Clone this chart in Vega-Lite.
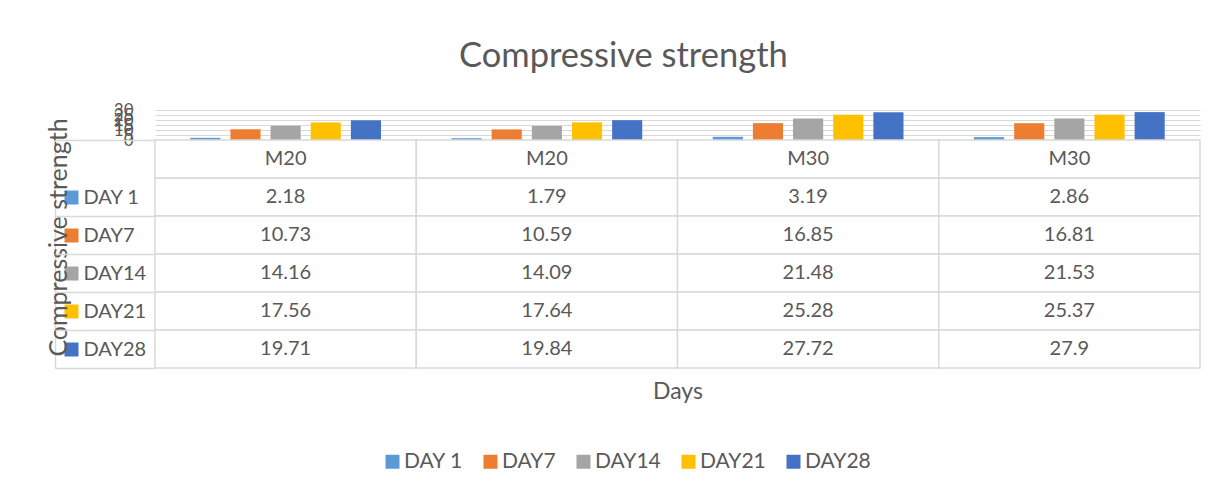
{
  "$schema": "https://vega.github.io/schema/vega-lite/v6.json",
  "background": "white",
  "padding": {"left": 45, "top": 38, "right": 10, "bottom": 10},
  "bounds": "flush",
  "spacing": 0,
  "title": {"text": "Compressive strength", "fontSize": 34.5, "font": "Lato", "fontWeight": "normal", "color": "#595959", "offset": 27, "anchor": "middle"},
  "config": {
    "font": "Lato",
    "view": {"stroke": null}
  },
  "data": {"values": [
    {"col": 1, "grade": "M20", "series": "DAY 1", "value": 2.18},
    {"col": 1, "grade": "M20", "series": "DAY7", "value": 10.73},
    {"col": 1, "grade": "M20", "series": "DAY14", "value": 14.16},
    {"col": 1, "grade": "M20", "series": "DAY21", "value": 17.56},
    {"col": 1, "grade": "M20", "series": "DAY28", "value": 19.71},
    {"col": 2, "grade": "M20", "series": "DAY 1", "value": 1.79},
    {"col": 2, "grade": "M20", "series": "DAY7", "value": 10.59},
    {"col": 2, "grade": "M20", "series": "DAY14", "value": 14.09},
    {"col": 2, "grade": "M20", "series": "DAY21", "value": 17.64},
    {"col": 2, "grade": "M20", "series": "DAY28", "value": 19.84},
    {"col": 3, "grade": "M30", "series": "DAY 1", "value": 3.19},
    {"col": 3, "grade": "M30", "series": "DAY7", "value": 16.85},
    {"col": 3, "grade": "M30", "series": "DAY14", "value": 21.48},
    {"col": 3, "grade": "M30", "series": "DAY21", "value": 25.28},
    {"col": 3, "grade": "M30", "series": "DAY28", "value": 27.72},
    {"col": 4, "grade": "M30", "series": "DAY 1", "value": 2.86},
    {"col": 4, "grade": "M30", "series": "DAY7", "value": 16.81},
    {"col": 4, "grade": "M30", "series": "DAY14", "value": 21.53},
    {"col": 4, "grade": "M30", "series": "DAY21", "value": 25.37},
    {"col": 4, "grade": "M30", "series": "DAY28", "value": 27.9}
  ]},
  "vconcat": [
    {
      "width": 1045,
      "height": 30,
      "mark": {"type": "bar"},
      "encoding": {
        "x": {"field": "col", "type": "ordinal", "scale": {"type": "band", "paddingInner": 0.27, "paddingOuter": 0.135}, "axis": null},
        "xOffset": {"field": "series", "type": "nominal", "sort": ["DAY 1", "DAY7", "DAY14", "DAY21", "DAY28"], "scale": {"paddingInner": 0.25, "paddingOuter": 0}},
        "y": {"field": "value", "type": "quantitative", "scale": {"domain": [0, 30], "nice": false},
          "axis": {"values": [0, 5, 10, 15, 20, 25, 30], "title": null, "domain": false, "ticks": false, "labelPadding": 22, "labelFontSize": 17, "labelColor": "#595959", "labelOverlap": false, "labelFlush": false, "gridColor": "#d9d9d9", "gridWidth": 1.2}},
        "color": {"field": "series", "type": "nominal",
          "scale": {"domain": ["DAY 1", "DAY7", "DAY14", "DAY21", "DAY28"], "range": ["#5B9BD5", "#ED7D31", "#A5A5A5", "#FFC000", "#4472C4"]},
          "legend": {"orient": "none", "legendX": 227, "legendY": 341, "direction": "horizontal", "title": null, "symbolType": "square", "symbolSize": 196, "symbolStrokeWidth": 0, "labelFontSize": 21, "labelColor": "#595959", "columnPadding": 17, "labelOffset": 1}}
      }
    },
    {
      "width": 1045,
      "height": 228,
      "encoding": {
        "x": {"field": "col", "type": "ordinal", "scale": {"type": "band", "paddingInner": 0, "paddingOuter": 0},
          "axis": {"title": "Days", "labels": false, "ticks": false, "domain": false, "titleFontSize": 23, "titleColor": "#595959", "titleFontWeight": "normal", "titlePadding": 12}}
      },
      "layer": [
        {
          "mark": {"type": "rect", "fill": "white", "stroke": "#d9d9d9", "strokeWidth": 1.5},
          "encoding": {
            "y": {"field": "series", "type": "nominal",
              "scale": {"type": "band", "domain": ["hdr", "DAY 1", "DAY7", "DAY14", "DAY21", "DAY28"], "paddingInner": 0, "paddingOuter": 0},
              "axis": {"orient": "left", "title": null, "domain": false, "ticks": true, "tickBand": "extent", "tickSize": 100, "tickColor": "#d9d9d9", "tickWidth": 1.5,
                "tickOpacity": {"condition": {"test": "datum.value === 'hdr'", "value": 0}, "value": 1},
                "labelAlign": "left", "labelPadding": -28, "labelFontSize": 20, "labelColor": "#595959",
                "labelExpr": "datum.value === 'hdr' ? '' : datum.value"}}
          }
        },
        {
          "transform": [{"filter": "datum.series === 'DAY 1'"}],
          "mark": {"type": "rect", "fill": "white", "stroke": "#d9d9d9", "strokeWidth": 1.5},
          "encoding": {"y": {"datum": "hdr", "type": "nominal", "axis": null}}
        },
        {
          "mark": {"type": "text", "fontSize": 20, "color": "#595959"},
          "encoding": {
            "y": {"field": "series", "type": "nominal",
              "axis": {"orient": "left", "title": null, "domain": false, "labels": false, "ticks": true, "tickBand": "center", "tickSize": 14, "tickWidth": 14, "tickCap": "butt", "offset": 77,
                "tickColor": {"condition": [
                  {"test": "datum.value === 'DAY 1'", "value": "#5B9BD5"},
                  {"test": "datum.value === 'DAY7'", "value": "#ED7D31"},
                  {"test": "datum.value === 'DAY14'", "value": "#A5A5A5"},
                  {"test": "datum.value === 'DAY21'", "value": "#FFC000"},
                  {"test": "datum.value === 'DAY28'", "value": "#4472C4"}
                ], "value": "transparent"}}},
            "text": {"field": "value", "type": "nominal"}
          }
        },
        {
          "transform": [{"filter": "datum.series === 'DAY 1'"}],
          "mark": {"type": "text", "fontSize": 20, "color": "#595959"},
          "encoding": {
            "y": {"datum": "hdr", "type": "nominal",
              "axis": {"orient": "left", "title": "Compressive strength", "titleFontSize": 25, "titleColor": "#595959", "titleFontWeight": "normal", "titlePadding": -16, "titleY": 97,
                "offset": 100, "domain": true, "domainColor": "#d9d9d9", "domainWidth": 1.5, "labels": false, "ticks": false}},
            "text": {"field": "grade", "type": "nominal"}
          }
        }
      ],
      "resolve": {"axis": {"y": "independent"}}
    }
  ]
}
